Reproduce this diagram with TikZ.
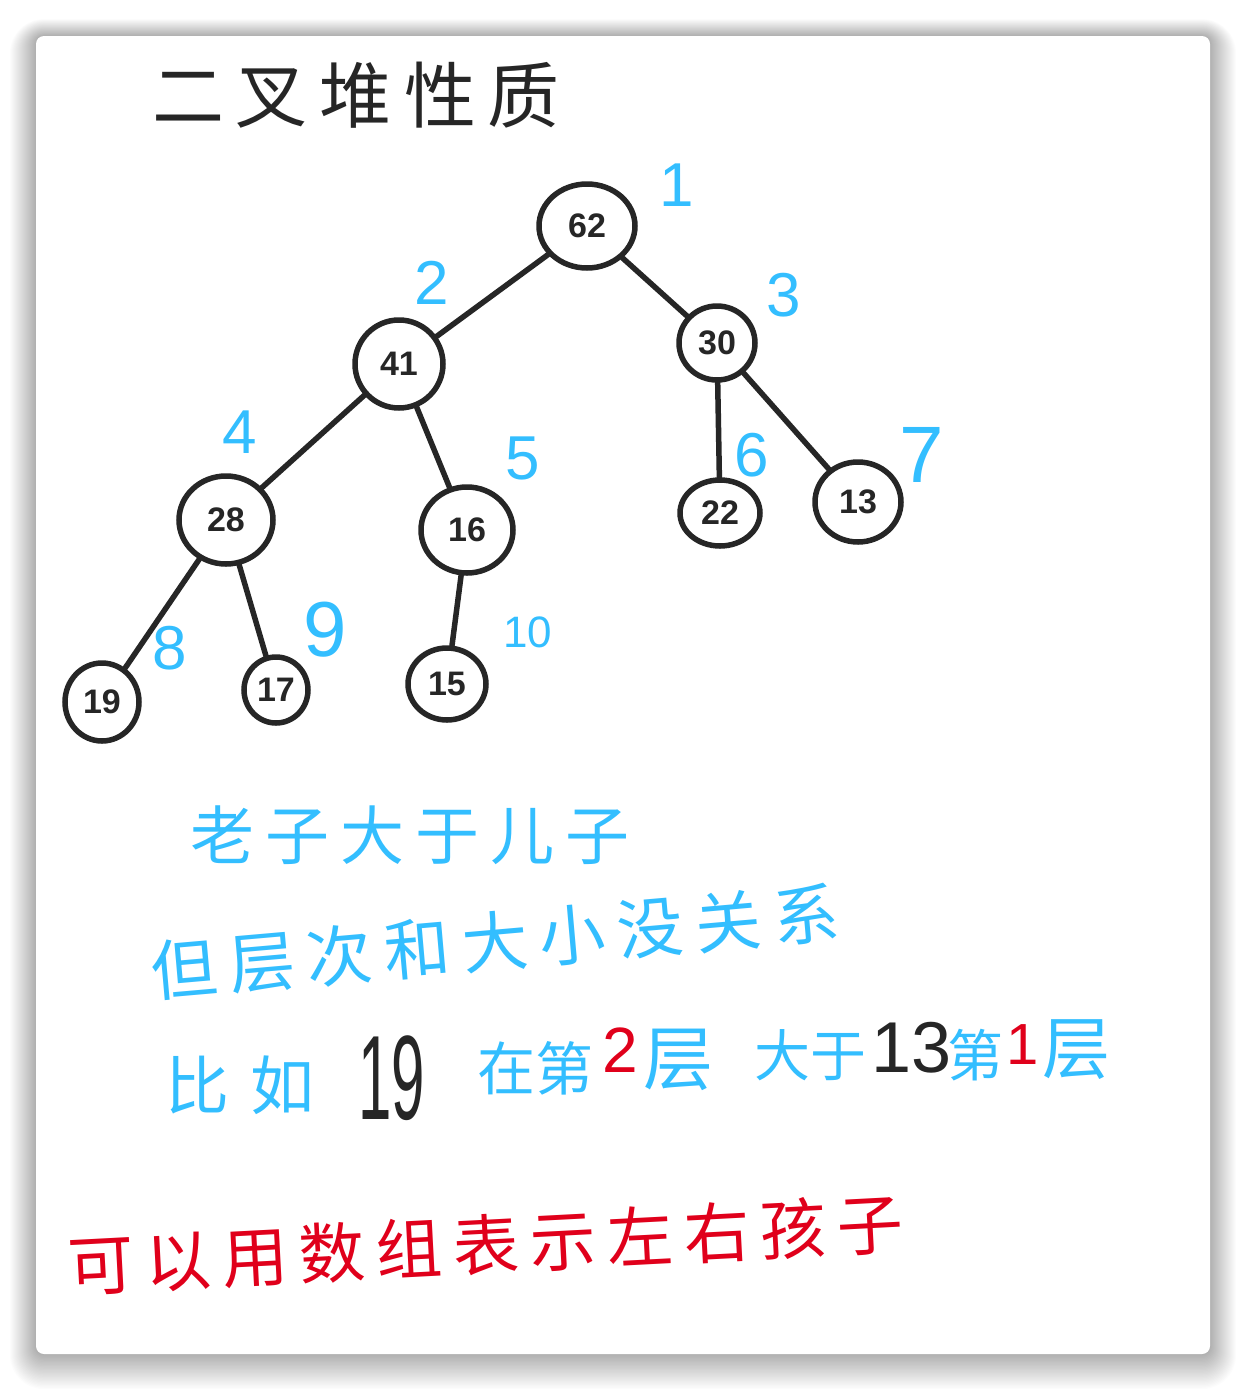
\documentclass[tikz,border=0pt]{standalone}
\usepackage{fontspec}
\setmainfont{Liberation Sans}
\newfontfamily\cjk{Noto Sans CJK SC}
\usetikzlibrary{shapes.geometric}
\definecolor{ink}{HTML}{262626}
\definecolor{sky}{HTML}{33BEFF}
\definecolor{redink}{HTML}{E0001B}
\newcommand{\fs}[1]{\fontsize{#1}{#1}\selectfont}
\begin{document}
\begin{tikzpicture}[x=1pt,y=-1pt,
  heapnode/.style={ellipse, draw=ink, line width=5.5pt, inner sep=0pt, text=ink,
     font=\fs{34}\bfseries},
  edge/.style={draw=ink, line width=5.5pt, line cap=round},
  idx/.style={text=sky, font=\fs{62}, inner sep=0pt},
  cjkline/.style={font=\cjk, inner sep=0pt}]
\useasboundingbox (0,0) rectangle (1246,1390);
\fill[white] (0,0) rectangle (1246,1390);
% card shadow
\foreach \i in {1,...,26}{
  \fill[black, opacity=0.01, rounded corners=8+\i] (36-\i,36-\i+0.35*\i) rectangle (1210+\i,1354+\i+0.35*\i);
}
\fill[white, rounded corners=8] (36,36) rectangle (1210,1354);

% title
\node[cjkline, text=ink, font=\cjk\fs{72}] (title) at (356,95) {二\hspace{12pt}叉\hspace{12pt}堆\hspace{12pt}性\hspace{12pt}质};

% heap nodes
\node[heapnode, minimum width=96pt, minimum height=84pt] (n62) at (587,226) {62};
\node[heapnode, minimum width=88pt, minimum height=88pt] (n41) at (399,364) {41};
\node[heapnode, minimum width=76pt, minimum height=74pt] (n30) at (717,343) {30};
\node[heapnode, minimum width=94pt, minimum height=88pt] (n28) at (226,520) {28};
\node[heapnode, minimum width=92pt, minimum height=86pt] (n16) at (467,530) {16};
\node[heapnode, minimum width=80pt, minimum height=66pt] (n22) at (720,513) {22};
\node[heapnode, minimum width=86pt, minimum height=80pt] (n13) at (858,502) {13};
\node[heapnode, minimum width=74pt, minimum height=78pt] (n19) at (102,702) {19};
\node[heapnode, minimum width=64pt, minimum height=66pt] (n17) at (276,690) {17};
\node[heapnode, minimum width=78pt, minimum height=72pt] (n15) at (447,684) {15};

% edges
\draw[edge] (n62) -- (n41);
\draw[edge] (n62) -- (n30);
\draw[edge] (n41) -- (n28);
\draw[edge] (n41) -- (n16);
\draw[edge] (n30) -- (n22);
\draw[edge] (n30) -- (n13);
\draw[edge] (n28) -- (n19);
\draw[edge] (n28) -- (n17);
\draw[edge] (n16) -- (n15);

% index labels
\node[idx] (i1) at (677,185) {1};
\node[idx] (i2) at (432,283) {2};
\node[idx] (i3) at (784,295) {3};
\node[idx] (i4) at (240,432) {4};
\node[idx] (i5) at (523,458) {5};
\node[idx] (i6) at (752,455) {6};
\node[idx, font=\fs{80}] (i7) at (922,455) {7};
\node[idx] (i8) at (170,648) {8};
\node[idx, font=\fs{78}] (i9) at (325,630) {9};
\node[idx, font=\fs{44}] (i10) at (528,632) {10};

% blue text lines
\node[cjkline, text=sky, font=\cjk\fs{64}] (l1) at (410,835) {老\hspace{11pt}子\hspace{11pt}大\hspace{11pt}于\hspace{11pt}儿\hspace{11pt}子};
\node[cjkline, text=sky, font=\cjk\fs{66}, rotate=5] (l2) at (495,942) {但\hspace{12pt}层\hspace{12pt}次\hspace{12pt}和\hspace{12pt}大\hspace{12pt}小\hspace{12pt}没\hspace{12pt}关\hspace{12pt}系};

% line 3 segments
\node[cjkline, text=sky, font=\cjk\fs{64}] (s1) at (240,1085) {比\hspace{22pt}如};
\node[inner sep=0pt, text=ink, font=\fs{120}, xscale=0.5] (s2) at (392,1078) {19};
\node[cjkline, text=sky, font=\cjk\fs{58}] (s3) at (535,1068) {在第};
\node[inner sep=0pt, text=redink, font=\fs{64}] (s4) at (620,1050) {2};
\node[cjkline, text=sky, font=\cjk\fs{70}] (s5) at (678,1060) {层};
\node[cjkline, text=sky, font=\cjk\fs{56}] (s6) at (810,1055) {大于};
\node[inner sep=0pt, text=ink, font=\fs{72}] (s7) at (912,1048) {13};
\node[cjkline, text=sky, font=\cjk\fs{56}] (s8) at (975,1055) {第};
\node[inner sep=0pt, text=redink, font=\fs{58}] (s9) at (1023,1045) {1};
\node[cjkline, text=sky, font=\cjk\fs{68}] (s10) at (1076,1050) {层};

% red line
\node[cjkline, text=redink, font=\cjk\fs{66}, rotate=3] (l4) at (486,1245) {可\hspace{11pt}以\hspace{11pt}用\hspace{11pt}数\hspace{11pt}组\hspace{11pt}表\hspace{11pt}示\hspace{11pt}左\hspace{11pt}右\hspace{11pt}孩\hspace{11pt}子};
\end{tikzpicture}
\end{document}
